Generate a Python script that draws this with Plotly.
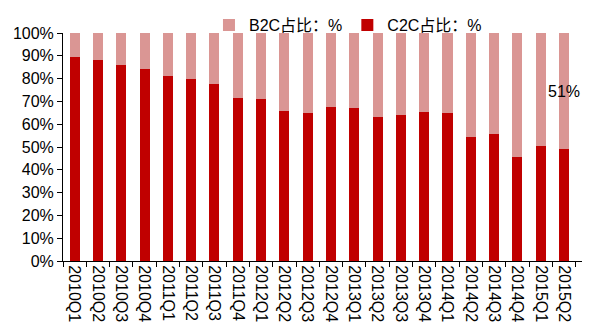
import plotly.graph_objects as go

quarters = ["2010Q1", "2010Q2", "2010Q3", "2010Q4", "2011Q1", "2011Q2", "2011Q3", "2011Q4",
            "2012Q1", "2012Q2", "2012Q3", "2012Q4", "2013Q1", "2013Q2", "2013Q3", "2013Q4",
            "2014Q1", "2014Q2", "2014Q3", "2014Q4", "2015Q1", "2015Q2"]
c2c_share = [89.3, 88.3, 85.8, 84.3, 81.2, 80.0, 77.7, 71.4, 71.2, 65.8, 64.8, 67.6,
             67.0, 63.3, 63.9, 65.3, 64.9, 54.5, 55.8, 45.7, 50.6, 49.0]
b2c_share = [round(100 - v, 1) for v in c2c_share]
y_ticks = [0, 10, 20, 30, 40, 50, 60, 70, 80, 90, 100]

FONT = "Arial, Liberation Sans, Noto Sans CJK SC, sans-serif"

fig = go.Figure()
fig.add_trace(go.Bar(x=quarters, y=c2c_share, name="C2C占比：%",
                     marker=dict(color="#C00000", line=dict(width=0))))
fig.add_trace(go.Bar(x=quarters, y=b2c_share, name="B2C占比：%",
                     marker=dict(color="#DA9694", line=dict(width=0))))

# label the latest B2C share in the middle of its segment
fig.add_annotation(x=quarters[-1], y=c2c_share[-1] + b2c_share[-1] / 2,
                   text=f"{b2c_share[-1]:.0f}%", showarrow=False,
                   font=dict(size=16, color="#000000", family=FONT))

fig.update_layout(
    barmode="stack",
    bargap=0.57,
    width=592, height=331,
    margin=dict(l=63, r=10, t=33, b=70, autoexpand=False),
    paper_bgcolor="white", plot_bgcolor="white",
    font=dict(family=FONT, size=16, color="#000000"),
    showlegend=True,
    legend=dict(orientation="h", traceorder="reversed",
                x=0.353, xref="container", xanchor="left",
                y=0.924, yref="container", yanchor="middle",
                font=dict(size=16), itemwidth=30,
                bgcolor="rgba(0,0,0,0)"),
    xaxis=dict(type="category", tickangle=90, tickson="boundaries",
               ticks="outside", ticklen=5, tickcolor="#000000",
               showline=True, linecolor="#000000", linewidth=1,
               showgrid=False, tickfont=dict(size=16), automargin=False),
    yaxis=dict(range=[0, 100], tickvals=y_ticks,
               ticktext=[f"{v}%" for v in y_ticks],
               ticks="outside", ticklen=5, tickcolor="#000000",
               showline=True, linecolor="#000000", linewidth=1,
               showgrid=False, zeroline=False, tickfont=dict(size=16),
               automargin=False),
)

fig.write_html("out.html")
